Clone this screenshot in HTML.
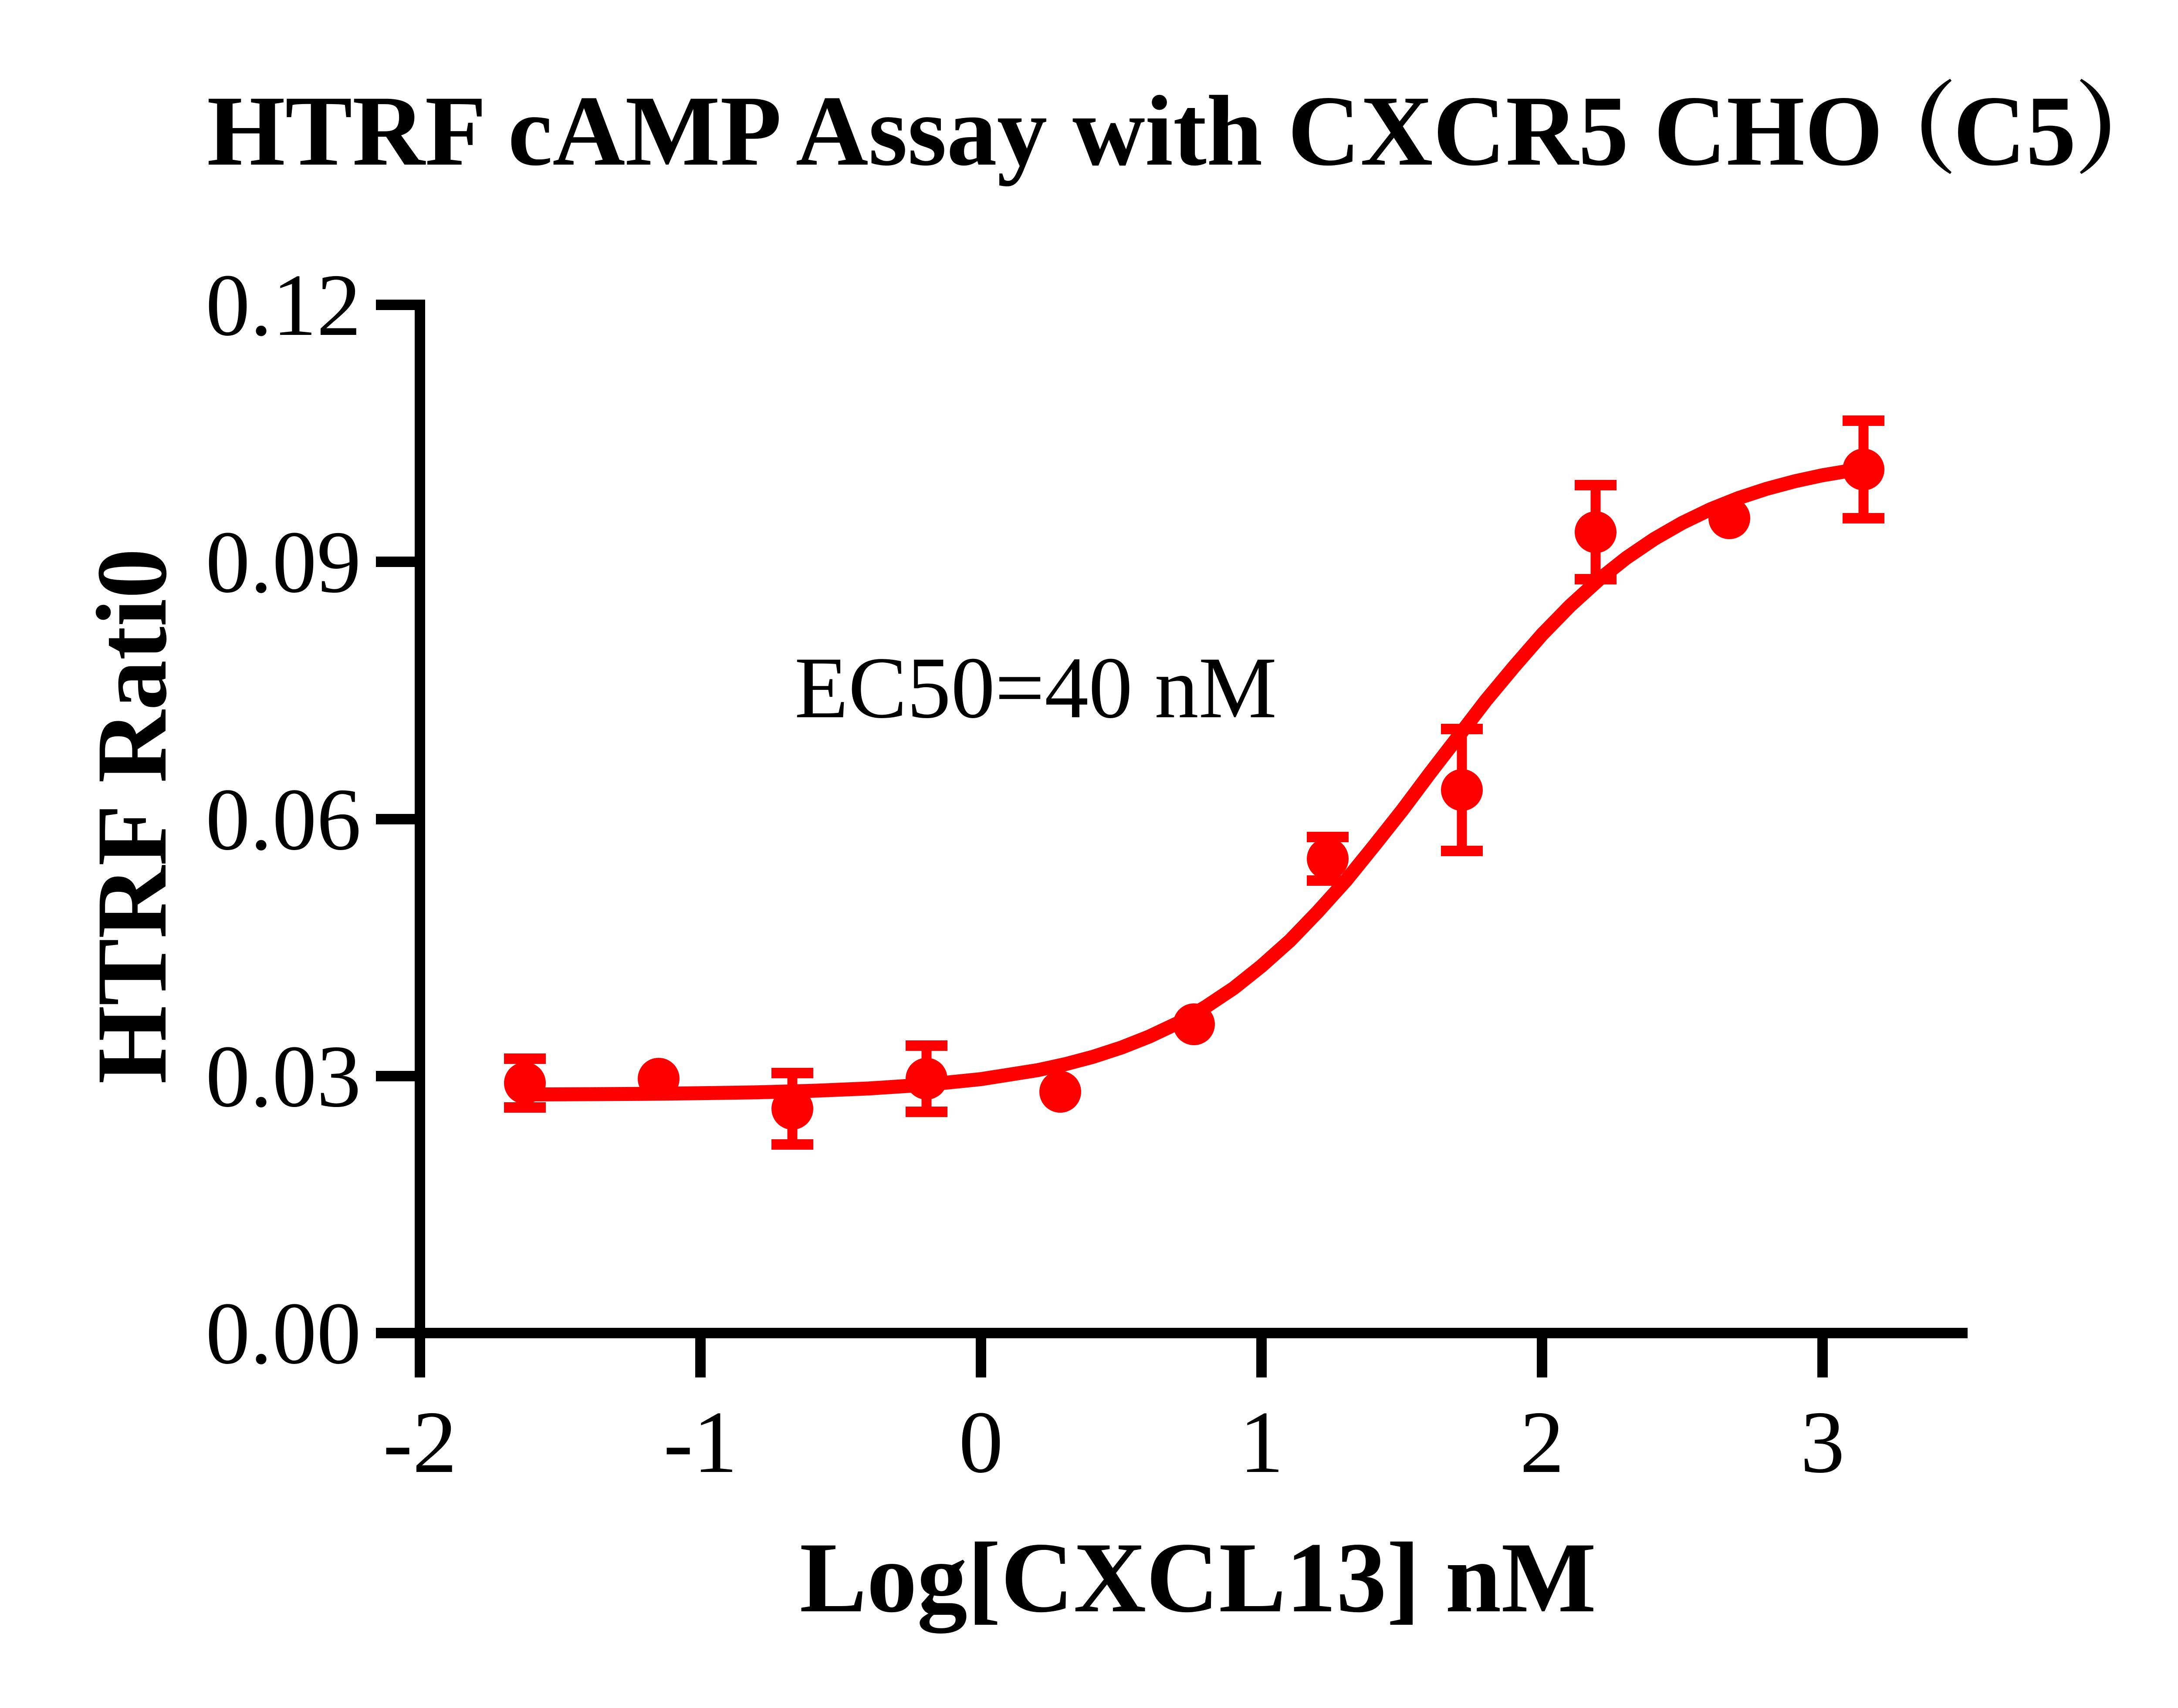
<!DOCTYPE html>
<html>
<head>
<meta charset="utf-8">
<style>
  html, body { margin: 0; padding: 0; background: #ffffff; }
  svg { display: block; }
</style>
</head>
<body>
<svg xmlns="http://www.w3.org/2000/svg" width="5164" height="3922" viewBox="0 0 5164 3922">
  <rect x="0" y="0" width="5164" height="3922" fill="#ffffff"/>

  <!-- Title -->
  <text x="475" y="378" font-family="'Liberation Serif', 'Noto Serif CJK SC', serif" font-weight="bold" font-size="231" fill="#000">HTRF cAMP Assay with CXCR5 CHO<tspan dx="-60">（</tspan><tspan dx="-10">C5</tspan><tspan dx="-5">）</tspan></text>

  <!-- Y axis label -->
  <text transform="translate(380,1874) rotate(-90)" x="0" y="0" text-anchor="middle" font-family="'Liberation Serif', serif" font-weight="bold" font-size="231" fill="#000">HTRF Rati0</text>

  <!-- X axis label -->
  <text x="2750" y="3700" text-anchor="middle" font-family="'Liberation Serif', serif" font-weight="bold" font-size="231" fill="#000">Log[CXCL13] nM</text>

  <!-- EC50 annotation -->
  <text x="1824" y="1647" font-family="'Liberation Serif', serif" font-size="202" fill="#000">EC50=40 nM</text>

  <!-- Axes -->
  <g fill="#000">
    <rect x="952" y="688" width="24" height="2385"/>
    <rect x="952" y="3049" width="3565" height="24"/>
    <rect x="863" y="688" width="113" height="24"/>
    <rect x="863" y="1278" width="113" height="24"/>
    <rect x="863" y="1869" width="113" height="24"/>
    <rect x="863" y="2459" width="113" height="24"/>
    <rect x="863" y="3049" width="113" height="24"/>
    <rect x="952" y="3049" width="24" height="114"/>
    <rect x="1596" y="3049" width="24" height="114"/>
    <rect x="2240" y="3049" width="24" height="114"/>
    <rect x="2884" y="3049" width="24" height="114"/>
    <rect x="3528" y="3049" width="24" height="114"/>
    <rect x="4172" y="3049" width="24" height="114"/>
  </g>

  <!-- Y tick labels -->
  <g font-family="'Liberation Serif', serif" font-size="204" fill="#000" text-anchor="end">
    <text x="829" y="769">0.12</text>
    <text x="829" y="1359">0.09</text>
    <text x="829" y="1950">0.06</text>
    <text x="829" y="2540">0.03</text>
    <text x="829" y="3130">0.00</text>
  </g>

  <!-- X tick labels -->
  <g font-family="'Liberation Serif', serif" font-size="204" fill="#000" text-anchor="middle">
    <text x="964" y="3380">-2</text>
    <text x="1608" y="3380">-1</text>
    <text x="2252" y="3380">0</text>
    <text x="2896" y="3380">1</text>
    <text x="3540" y="3380">2</text>
    <text x="4184" y="3380">3</text>
  </g>

  <!-- Fitted curve -->
  <polyline fill="none" stroke="#ff0000" stroke-width="32" stroke-linejoin="round" stroke-linecap="round"
    points="1205,2513.1 1350.4,2512.5 1479.2,2511.7 1608,2510.3 1736.8,2508.2 1865.6,2504.8 1994.4,2499.4 2123.2,2491.0 2252,2477.9 2380.8,2457.6 2445.2,2443.7 2509.6,2426.6 2574,2405.6 2638.4,2380.1 2703.8,2349.2 2767.2,2312.4 2832.6,2268.8 2896,2218.1 2961.4,2159.8 3024.8,2094.0 3090.2,2021.5 3153.6,1943.2 3219,1860.7 3282.4,1775.9 3347.8,1691.1 3411.2,1608.4 3476.6,1529.9 3540,1457.1 3604.4,1391.1 3668.8,1332.5 3733.2,1281.4 3797.6,1237.6 3862,1200.6 3926.4,1169.5 3990.8,1143.7 4055.2,1122.6 4119.6,1105.3 4184,1091.3 4277.4,1075.6"/>

  <!-- Error bars -->
  <g fill="#ff0000">
    <rect x="1193.5" y="2431" width="23" height="112"/>
    <rect x="1157" y="2419" width="96" height="24"/>
    <rect x="1157" y="2531" width="96" height="24"/>
    <rect x="1807.5" y="2464" width="23" height="164"/>
    <rect x="1771" y="2452" width="96" height="24"/>
    <rect x="1771" y="2616" width="96" height="24"/>
    <rect x="2115.5" y="2401" width="23" height="152"/>
    <rect x="2079" y="2389" width="96" height="24"/>
    <rect x="2079" y="2541" width="96" height="24"/>
    <rect x="3036.5" y="1922" width="23" height="100"/>
    <rect x="3000" y="1910" width="96" height="24"/>
    <rect x="3000" y="2010" width="96" height="24"/>
    <rect x="3344.5" y="1674" width="23" height="280"/>
    <rect x="3308" y="1662" width="96" height="24"/>
    <rect x="3308" y="1942" width="96" height="24"/>
    <rect x="3651.5" y="1114" width="23" height="216"/>
    <rect x="3615" y="1102" width="96" height="24"/>
    <rect x="3615" y="1318" width="96" height="24"/>
    <rect x="4266.5" y="966" width="23" height="224"/>
    <rect x="4230" y="954" width="96" height="24"/>
    <rect x="4230" y="1178" width="96" height="24"/>
  </g>

  <!-- Data markers -->
  <g fill="#ff0000">
    <circle cx="1205" cy="2487" r="48"/>
    <circle cx="1512" cy="2477" r="48"/>
    <circle cx="1819" cy="2546" r="48"/>
    <circle cx="2127" cy="2477" r="48"/>
    <circle cx="2434" cy="2507" r="48"/>
    <circle cx="2741" cy="2352" r="48"/>
    <circle cx="3048" cy="1972" r="48"/>
    <circle cx="3356" cy="1814" r="48"/>
    <circle cx="3663" cy="1222" r="48"/>
    <circle cx="3970" cy="1190" r="48"/>
    <circle cx="4278" cy="1078" r="48"/>
  </g>
</svg>
</body>
</html>
